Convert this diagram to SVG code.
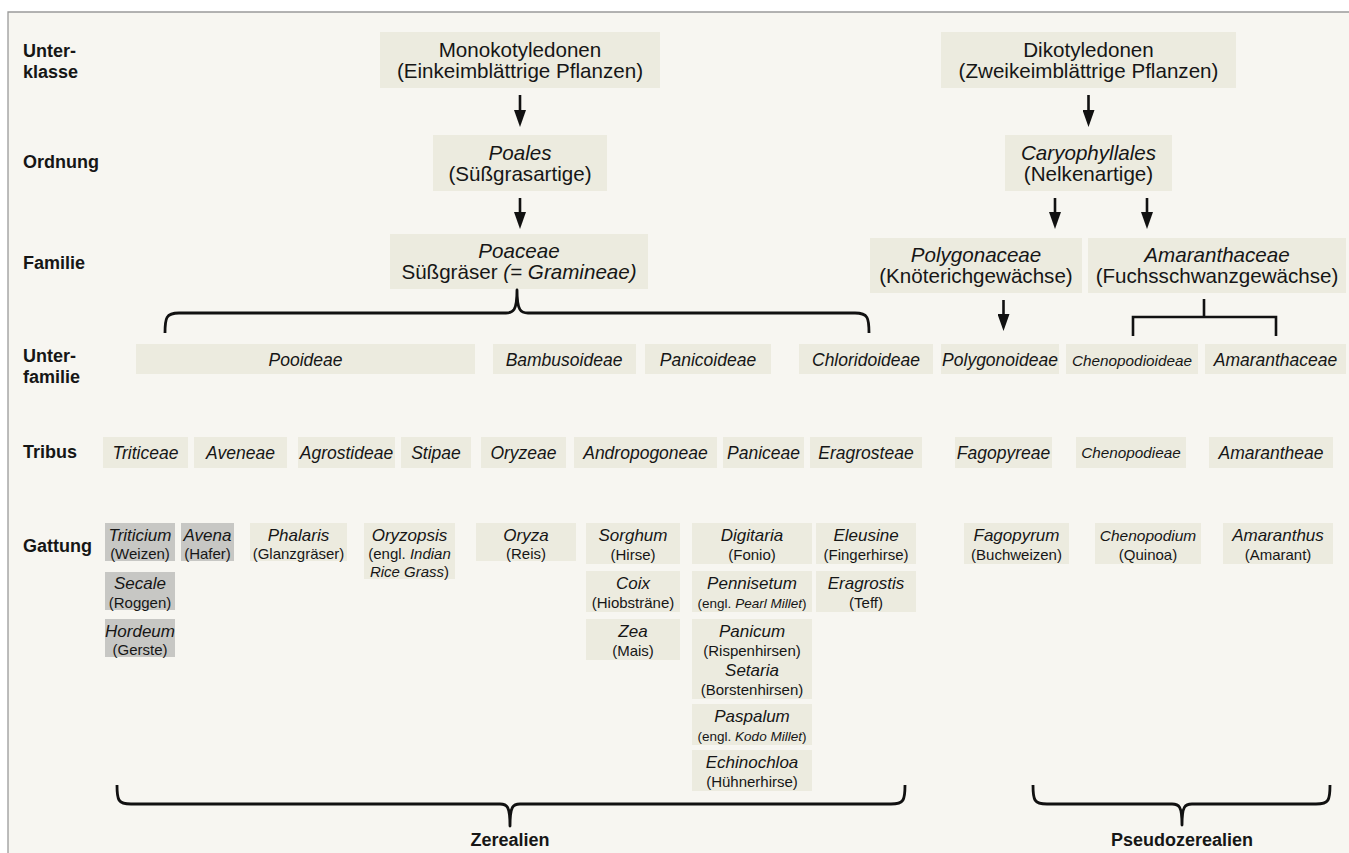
<svg xmlns="http://www.w3.org/2000/svg" width="1349" height="853" viewBox="0 0 1349 853">
<defs>
<style>
text{font-family:"Liberation Sans",Arial,sans-serif;fill:#161616;text-anchor:middle}
.lbl{font-weight:bold;font-size:18px;text-anchor:start}
.sum{font-weight:bold;font-size:18px}
.t1{font-size:20.6px}
.it{font-style:italic}
.sf{font-style:italic;font-size:17.5px}
.sfc{font-style:italic;font-size:15.3px}
.gn{font-style:italic;font-size:17px}
.gp{font-size:15px}
.gs{font-size:13.5px}
.box{fill:#ecebdf}
.gray{fill:#c7c7c4}
.ln{fill:none;stroke:#111;stroke-width:2.6}
.br{fill:none;stroke:#111;stroke-width:2.8;stroke-linejoin:round}
</style>
<marker id="ah" viewBox="0 0 17 12" refX="0" refY="6" markerWidth="17" markerHeight="12" markerUnits="userSpaceOnUse" orient="auto">
<path d="M0,0 L17,6 L0,12 z" fill="#111"/>
</marker>
</defs>
<rect x="0" y="0" width="1349" height="853" fill="#ffffff"/>
<rect x="8" y="12" width="1341" height="841" fill="#f7f6f1"/>
<path d="M8,853 L8,12 L1349,12" fill="none" stroke="#9a9a9a" stroke-width="1.3"/>

<g id="row-labels">
<text class="lbl" x="23" y="56.5">Unter-</text>
<text class="lbl" x="23" y="77.5">klasse</text>
<text class="lbl" x="23" y="167.5">Ordnung</text>
<text class="lbl" x="23" y="269">Familie</text>
<text class="lbl" x="23" y="362">Unter-</text>
<text class="lbl" x="23" y="382.5">familie</text>
<text class="lbl" x="23" y="458">Tribus</text>
<text class="lbl" x="23" y="552">Gattung</text>
</g>

<g id="monokotyledonen">
<rect class="box" x="380" y="32" width="280" height="56"/>
<text class="t1" x="520" y="56.5">Monokotyledonen</text>
<text class="t1" x="520" y="77.5">(Einkeimblättrige Pflanzen)</text>
</g>
<g id="poales">
<rect class="box" x="433" y="135" width="174" height="56"/>
<text class="t1 it" x="520" y="159.5">Poales</text>
<text class="t1" x="520" y="180.5">(Süßgrasartige)</text>
</g>
<g id="poaceae">
<rect class="box" x="390" y="234" width="258" height="55"/>
<text class="t1 it" x="519" y="257.5">Poaceae</text>
<text class="t1" x="519" y="278.5">Süßgräser <tspan class="it">(= Gramineae)</tspan></text>
</g>
<g id="dikotyledonen">
<rect class="box" x="941" y="32" width="295" height="56"/>
<text class="t1" x="1088.5" y="56.5">Dikotyledonen</text>
<text class="t1" x="1088.5" y="77.5">(Zweikeimblättrige Pflanzen)</text>
</g>
<g id="caryophyllales">
<rect class="box" x="1005" y="135" width="167" height="56"/>
<text class="t1 it" x="1088.5" y="159.5">Caryophyllales</text>
<text class="t1" x="1088.5" y="180.5">(Nelkenartige)</text>
</g>
<g id="polygonaceae">
<rect class="box" x="870" y="238" width="212" height="55"/>
<text class="t1 it" x="976" y="261.5">Polygonaceae</text>
<text class="t1" x="976" y="282.5">(Knöterichgewächse)</text>
</g>
<g id="amaranthaceae-fam">
<rect class="box" x="1088" y="238" width="258" height="55"/>
<text class="t1 it" x="1217" y="261.5">Amaranthaceae</text>
<text class="t1" x="1217" y="282.5">(Fuchsschwanzgewächse)</text>
</g>

<g id="unterfamilien">
<g id="pooideae"><rect class="box" x="136" y="344" width="339" height="30"/><text class="sf" x="305.5" y="366">Pooideae</text></g>
<g id="bambusoideae"><rect class="box" x="493" y="344" width="143" height="30"/><text class="sf" x="564" y="366">Bambusoideae</text></g>
<g id="panicoideae"><rect class="box" x="645" y="344" width="126" height="30"/><text class="sf" x="708" y="366">Panicoideae</text></g>
<g id="chloridoideae"><rect class="box" x="799" y="344" width="134" height="30"/><text class="sf" x="866" y="366">Chloridoideae</text></g>
<g id="polygonoideae"><rect class="box" x="941" y="344" width="118" height="30"/><text class="sf" x="1000" y="366">Polygonoideae</text></g>
<g id="chenopodioideae"><rect class="box" x="1066" y="344" width="132" height="30"/><text class="sfc" x="1132" y="365.5">Chenopodioideae</text></g>
<g id="amaranthaceae-sub"><rect class="box" x="1205" y="344" width="141" height="30"/><text class="sf" x="1275.5" y="366">Amaranthaceae</text></g>
</g>

<g id="tribus">
<g id="triticeae"><rect class="box" x="103" y="437" width="85" height="31"/><text class="sf" x="145.5" y="458.5">Triticeae</text></g>
<g id="aveneae"><rect class="box" x="194" y="437" width="93" height="31"/><text class="sf" x="240.5" y="458.5">Aveneae</text></g>
<g id="agrostideae"><rect class="box" x="298" y="437" width="97" height="31"/><text class="sf" x="346.5" y="458.5">Agrostideae</text></g>
<g id="stipae"><rect class="box" x="401" y="437" width="70" height="31"/><text class="sf" x="436" y="458.5">Stipae</text></g>
<g id="oryzeae"><rect class="box" x="481" y="437" width="85" height="31"/><text class="sf" x="523.5" y="458.5">Oryzeae</text></g>
<g id="andropogoneae"><rect class="box" x="574" y="437" width="143" height="31"/><text class="sf" x="645.5" y="458.5">Andropogoneae</text></g>
<g id="paniceae"><rect class="box" x="723" y="437" width="81" height="31"/><text class="sf" x="763.5" y="458.5">Paniceae</text></g>
<g id="eragrosteae"><rect class="box" x="810" y="437" width="112" height="31"/><text class="sf" x="866" y="458.5">Eragrosteae</text></g>
<g id="fagopyreae"><rect class="box" x="955" y="437" width="97" height="31"/><text class="sf" x="1003.5" y="458.5">Fagopyreae</text></g>
<g id="chenopodieae"><rect class="box" x="1076" y="437" width="110" height="31"/><text class="sfc" x="1131" y="458">Chenopodieae</text></g>
<g id="amarantheae"><rect class="box" x="1209" y="437" width="124" height="31"/><text class="sf" x="1271" y="458.5">Amarantheae</text></g>
</g>

<g id="gattungen">
<g id="triticium"><rect class="gray" x="105" y="523" width="70" height="38"/><text class="gn" x="140" y="540.5">Triticium</text><text class="gp" x="140" y="559">(Weizen)</text></g>
<g id="secale"><rect class="gray" x="105" y="572" width="70" height="38"/><text class="gn" x="140" y="589">Secale</text><text class="gp" x="140" y="607.5">(Roggen)</text></g>
<g id="hordeum"><rect class="gray" x="105" y="619" width="70" height="38"/><text class="gn" x="140" y="636.5">Hordeum</text><text class="gp" x="140" y="655">(Gerste)</text></g>
<g id="avena"><rect class="gray" x="181" y="523" width="53" height="38"/><text class="gn" x="207.5" y="540.5">Avena</text><text class="gp" x="207.5" y="559">(Hafer)</text></g>
<g id="phalaris"><rect class="box" x="250" y="523" width="97" height="38"/><text class="gn" x="298.5" y="540.5">Phalaris</text><text class="gp" x="298.5" y="559">(Glanzgräser)</text></g>
<g id="oryzopsis"><rect class="box" x="364" y="523" width="91" height="56"/><text class="gn" x="409.5" y="540.5">Oryzopsis</text><text class="gp" x="409.5" y="559">(engl. <tspan class="it">Indian</tspan></text><text class="gp" x="409.5" y="577"><tspan class="it">Rice Grass</tspan>)</text></g>
<g id="oryza"><rect class="box" x="476" y="523" width="100" height="38"/><text class="gn" x="526" y="540.5">Oryza</text><text class="gp" x="526" y="559">(Reis)</text></g>
<g id="sorghum"><rect class="box" x="586" y="523" width="94" height="41"/><text class="gn" x="633" y="540.5">Sorghum</text><text class="gp" x="633" y="559.5">(Hirse)</text></g>
<g id="coix"><rect class="box" x="586" y="571" width="94" height="41"/><text class="gn" x="633" y="589">Coix</text><text class="gp" x="633" y="608">(Hiobsträne)</text></g>
<g id="zea"><rect class="box" x="586" y="619" width="94" height="41"/><text class="gn" x="633" y="636.5">Zea</text><text class="gp" x="633" y="655.5">(Mais)</text></g>
<g id="digitaria"><rect class="box" x="692" y="523" width="120" height="41"/><text class="gn" x="752" y="540.5">Digitaria</text><text class="gp" x="752" y="559.5">(Fonio)</text></g>
<g id="pennisetum"><rect class="box" x="692" y="571" width="120" height="41"/><text class="gn" x="752" y="589">Pennisetum</text><text class="gs" x="752" y="608">(engl. <tspan class="it">Pearl Millet</tspan>)</text></g>
<g id="panicum-setaria"><rect class="box" x="692" y="619" width="120" height="80"/><text class="gn" x="752" y="636.5">Panicum</text><text class="gp" x="752" y="655.5">(Rispenhirsen)</text><text class="gn" x="752" y="676">Setaria</text><text class="gp" x="752" y="695">(Borstenhirsen)</text></g>
<g id="paspalum"><rect class="box" x="692" y="704" width="120" height="41"/><text class="gn" x="752" y="721.5">Paspalum</text><text class="gs" x="752" y="740.5">(engl. <tspan class="it">Kodo Millet</tspan>)</text></g>
<g id="echinochloa"><rect class="box" x="692" y="750" width="120" height="41"/><text class="gn" x="752" y="768">Echinochloa</text><text class="gp" x="752" y="787">(Hühnerhirse)</text></g>
<g id="eleusine"><rect class="box" x="816" y="523" width="100" height="41"/><text class="gn" x="866" y="540.5">Eleusine</text><text class="gp" x="866" y="559.5">(Fingerhirse)</text></g>
<g id="eragrostis"><rect class="box" x="816" y="571" width="100" height="41"/><text class="gn" x="866" y="589">Eragrostis</text><text class="gp" x="866" y="608">(Teff)</text></g>
<g id="fagopyrum"><rect class="box" x="964" y="523" width="105" height="41"/><text class="gn" x="1016.5" y="540.5">Fagopyrum</text><text class="gp" x="1016.5" y="559.5">(Buchweizen)</text></g>
<g id="chenopodium"><rect class="box" x="1095" y="523" width="106" height="41"/><text class="gn" x="1148" y="540.5" style="font-size:15.5px">Chenopodium</text><text class="gp" x="1148" y="559.5">(Quinoa)</text></g>
<g id="amaranthus"><rect class="box" x="1223" y="523" width="110" height="41"/><text class="gn" x="1278" y="540.5">Amaranthus</text><text class="gp" x="1278" y="559.5">(Amarant)</text></g>
</g>

<g id="summaries">
<text class="sum" x="510" y="846">Zerealien</text>
<text class="sum" x="1182" y="846">Pseudozerealien</text>
</g>

<g id="connectors">
<line class="ln" x1="520" y1="95" x2="520" y2="110" marker-end="url(#ah)"/>
<line class="ln" x1="520" y1="198" x2="520" y2="212" marker-end="url(#ah)"/>
<line class="ln" x1="1088.5" y1="95" x2="1088.5" y2="110" marker-end="url(#ah)"/>
<line class="ln" x1="1055" y1="198" x2="1055" y2="212" marker-end="url(#ah)"/>
<line class="ln" x1="1147" y1="198" x2="1147" y2="212" marker-end="url(#ah)"/>
<line class="ln" x1="1003.5" y1="300" x2="1003.5" y2="314" marker-end="url(#ah)"/>
<path class="br" d="M165,333 C165,318 166,313 179,313 L506,313 C513,313 517,311 517,290 C517,311 521,313 528,313 L855,313 C868,313 869,318 869,333"/>
<path class="ln" d="M1204,299 L1204,317 M1133,336 L1133,317 L1276,317 L1276,336" stroke-width="2.4"/>
<path class="br" d="M117,785 C117,800 118,804 131,804 L500,804 C507,804 510,806 510,826 C510,806 513,804 520,804 L891,804 C904,804 905,800 905,785"/>
<path class="br" d="M1033,785 C1033,800 1034,804 1047,804 L1172,804 C1179,804 1182,806 1182,825 C1182,806 1185,804 1192,804 L1316,804 C1329,804 1330,800 1330,785"/>
</g>
</svg>
